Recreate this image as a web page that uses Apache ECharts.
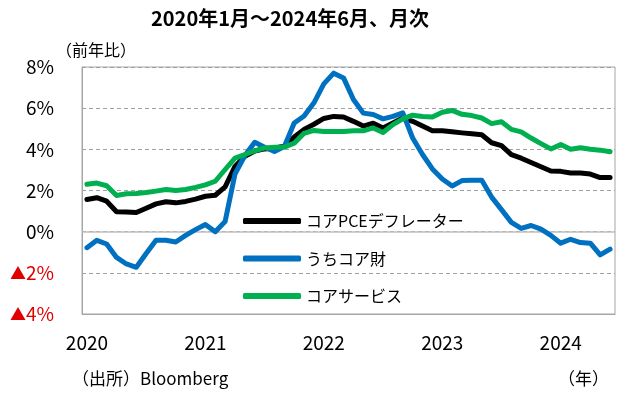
<!DOCTYPE html>
<html><head><meta charset="utf-8">
<script src="https://cdn.jsdelivr.net/npm/echarts@6/dist/echarts.min.js"></script>
<style>html,body{margin:0;padding:0;background:#fff}#c{width:636px;height:399px}</style>
</head><body><div id="c"></div>
<script>
var years = ['2020','2021','2022','2023','2024'];
var categories = [];
years.forEach(function(y){ for (var m=1;m<=12;m++){ if (y==='2024' && m>6) break; categories.push(y+'/'+m); } });

var corePCE = [1.56,1.65,1.48,0.97,0.96,0.93,1.14,1.35,1.45,1.40,1.47,1.58,
  1.72,1.77,2.18,3.17,3.66,3.92,4.02,4.07,4.15,4.60,4.97,5.22,
  5.50,5.60,5.57,5.36,5.13,5.27,5.04,5.28,5.52,5.36,5.13,4.90,
  4.90,4.85,4.80,4.76,4.71,4.32,4.18,3.74,3.57,3.36,3.15,2.95,
  2.93,2.85,2.85,2.80,2.63,2.63];
var coreGoods = [-0.78,-0.42,-0.60,-1.25,-1.57,-1.73,-1.06,-0.42,-0.42,-0.50,-0.18,0.10,
  0.35,0.00,0.49,2.80,3.70,4.34,4.10,3.90,4.14,5.28,5.62,6.26,
  7.18,7.70,7.47,6.42,5.76,5.69,5.48,5.60,5.77,4.55,3.75,3.05,
  2.56,2.22,2.48,2.50,2.50,1.68,1.07,0.45,0.16,0.30,0.12,-0.18,
  -0.56,-0.37,-0.53,-0.56,-1.13,-0.85];
var coreServices = [2.30,2.36,2.23,1.76,1.84,1.85,1.90,1.97,2.05,2.00,2.05,2.15,
  2.27,2.45,3.02,3.57,3.75,3.92,4.07,4.10,4.11,4.30,4.78,4.92,
  4.87,4.87,4.87,4.90,4.90,5.04,4.82,5.20,5.48,5.66,5.60,5.57,
  5.80,5.89,5.70,5.64,5.52,5.25,5.34,4.97,4.85,4.55,4.28,4.02,
  4.23,4.00,4.08,4.00,3.96,3.88];
var seriesNames = ['コアPCEデフレーター','うちコア財','コアサービス'];
var seriesColors = ['#000000','#0070c0','#00b050'];
var yMin = -4, yMax = 8, yStep = 2;

var FONT = '"Noto Sans CJK JP","Noto Sans",sans-serif';
var chart = echarts.init(document.getElementById('c'), null, {renderer:'canvas'});
function mk(name, data, color, extra){
  var s = {name:name, type:'line', data:data, showSymbol:false, symbol:'none', smooth:false,
    lineStyle:{color:color, width:5, cap:'round', join:'round'}, itemStyle:{color:color}, z:3};
  if (extra) for (var k in extra) s[k]=extra[k];
  return s;
}
chart.setOption({
  animation:false,
  textStyle:{fontFamily:FONT},
  title:{text:'2020年1月～2024年6月、月次', left:146, top:3,
    textStyle:{fontFamily:FONT, fontSize:20, fontWeight:'bold', color:'#000'}},
  grid:{left:82, right:21, top:67, bottom:85, show:true, borderColor:'#a6a6a6', borderWidth:1, containLabel:false},
  legend:{orient:'vertical', left:238, top:206, itemWidth:58, itemHeight:6, itemGap:17.5,
    icon:'roundRect', data:seriesNames,
    textStyle:{fontFamily:FONT, fontSize:16, color:'#000', lineHeight:20}},
  xAxis:{type:'category', data:categories, boundaryGap:true,
    axisLine:{show:true, onZero:false, lineStyle:{color:'#a6a6a6'}},
    axisTick:{show:false},
    axisLabel:{interval:function(i){return i%12===0;}, formatter:function(v){return v.split('/')[0];},
      margin:19, fontSize:19, color:'#000', fontFamily:FONT},
    splitLine:{show:false}},
  yAxis:{type:'value', min:yMin, max:yMax, interval:yStep,
    axisLine:{show:true, lineStyle:{color:'#a6a6a6'}}, axisTick:{show:false},
    splitLine:{show:true, lineStyle:{color:'#a0a0a0', type:[4,3], width:1}},
    axisLabel:{margin:28, fontSize:19, color:'#000', fontFamily:FONT,
      formatter:function(v){ return v<0 ? '{t|▲}{r|'+Math.abs(v)+'%}' : v+'%'; },
      rich:{t:{color:'#e00000', fontSize:16, fontFamily:FONT}, r:{color:'#e00000', fontSize:19, fontFamily:FONT}}}},
  graphic:[
    {type:'text', left:56, top:42, style:{text:'（前年比）', font:'16px '+FONT, fill:'#000'}},
    {type:'text', left:72, top:370, style:{text:'（出所）Bloomberg', font:'17px '+FONT, fill:'#000'}},
    {type:'text', left:558, top:370, style:{text:'（年）', font:'17px '+FONT, fill:'#000'}}
  ],
  series:[
    mk(seriesNames[0], corePCE, seriesColors[0], {markLine:{silent:true, symbol:'none', label:{show:false},
      lineStyle:{color:'#bfbfbf', type:'solid', width:1.5}, data:[{yAxis:0}], z:1}}),
    mk(seriesNames[1], coreGoods, seriesColors[1]),
    mk(seriesNames[2], coreServices, seriesColors[2])
  ]
});
</script></body></html>
